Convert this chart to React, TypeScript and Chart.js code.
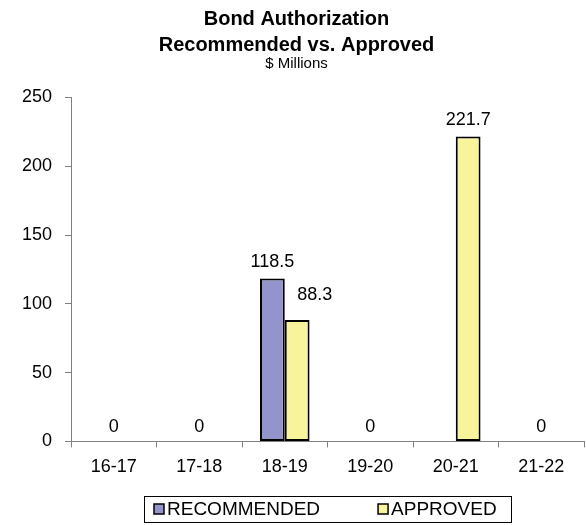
import React, { useEffect, useRef } from "react";
import { Chart, registerables } from "chart.js";

Chart.register(...registerables);

const categories = ["16-17", "17-18", "18-19", "19-20", "20-21", "21-22"];
const recommended: (number | null)[] = [0, 0, 118.5, 0, null, 0];
const approved: (number | null)[] = [0, 0, 88.3, 0, 221.7, 0];
const seriesNames = ["RECOMMENDED", "APPROVED"];
const titleLines = ["Bond Authorization", "Recommended vs. Approved"];
const subtitleText = "$ Millions";

const FONT = "'Liberation Sans', Arial, sans-serif";
const LABEL_SIZE = 18;
const LEGEND_SIZE = 19;

const labelPlugin = {
  id: "barValueLabels",
  afterDatasetsDraw(chart: any) {
    const ctx = chart.ctx;
    const xScale = chart.scales.x;
    const yScale = chart.scales.y;
    ctx.save();
    ctx.font = `${LABEL_SIZE}px ${FONT}`;
    ctx.fillStyle = "#000";
    ctx.textBaseline = "alphabetic";
    const n = chart.data.labels.length;
    for (let i = 0; i < n; i++) {
      const vals = chart.data.datasets.map((d: any) => d.data[i]);
      const nonNull = vals.filter((v: any) => v !== null && v !== undefined);
      const allZero = nonNull.length > 0 && nonNull.every((v: number) => v === 0);
      if (allZero) {
        ctx.textAlign = "center";
        ctx.fillText("0", xScale.getPixelForValue(i), yScale.getPixelForValue(0) - 9);
        continue;
      }
      chart.data.datasets.forEach((d: any, di: number) => {
        const v = d.data[i];
        if (v === null || v === undefined || v === 0) return;
        const el = chart.getDatasetMeta(di).data[i];
        let y = el.y - 11;
        ctx.textAlign = "center";
        if (di > 0) {
          const prev = chart.data.datasets[di - 1].data[i];
          if (prev !== null && prev !== undefined && prev > v) {
            ctx.textAlign = "left";
            y = el.y - 20;
          }
        }
        ctx.fillText(String(v), el.x, y);
      });
    }
    ctx.restore();
  },
};

const boxLegendPlugin = {
  id: "boxLegend",
  afterDraw(chart: any) {
    const ctx = chart.ctx;
    const area = chart.chartArea;
    ctx.save();
    ctx.font = `${LEGEND_SIZE}px ${FONT}`;
    const sq = 10;
    const gapSq = 3;
    const gapItem = 58;
    const padX = 10;
    const items = chart.data.datasets.map((d: any) => ({
      text: d.label,
      color: d.backgroundColor,
      w: ctx.measureText(d.label).width,
    }));
    let total = padX * 2 + 4;
    items.forEach((it: any, i: number) => {
      total += sq + gapSq + it.w + (i > 0 ? gapItem : 0);
    });
    const cx = (area.left + area.right) / 2;
    const left = Math.round(cx - total / 2);
    const top = 496;
    const h = 26;
    const cy = top + h / 2;
    ctx.strokeStyle = "#000";
    ctx.lineWidth = 1;
    ctx.strokeRect(left + 0.5, top + 0.5, Math.round(total), h);
    let x = left + padX;
    ctx.textBaseline = "middle";
    ctx.textAlign = "left";
    items.forEach((it: any, i: number) => {
      if (i > 0) x += gapItem;
      ctx.fillStyle = it.color;
      ctx.fillRect(x, cy - sq / 2, sq, sq);
      ctx.strokeStyle = "#000";
      ctx.lineWidth = 1.5;
      ctx.strokeRect(x, cy - sq / 2, sq, sq);
      x += sq + gapSq;
      ctx.fillStyle = "#000";
      ctx.fillText(it.text, x, cy + 1);
      x += it.w;
    });
    ctx.restore();
  },
};

export default function App() {
  const ref = useRef<HTMLCanvasElement>(null);
  useEffect(() => {
    if (!ref.current) return;
    const chart = new Chart(ref.current, {
      type: "bar",
      data: {
        labels: categories,
        datasets: [
          {
            label: seriesNames[0],
            data: recommended,
            backgroundColor: "#9494CC",
            borderColor: "#000",
            borderWidth: 2,
            borderSkipped: false,
          },
          {
            label: seriesNames[1],
            data: approved,
            backgroundColor: "#F8F49C",
            borderColor: "#000",
            borderWidth: 2,
            borderSkipped: false,
          },
        ],
      },
      options: {
        animation: false,
        responsive: false,
        devicePixelRatio: 1,
        categoryPercentage: 0.58,
        barPercentage: 1.0,
        layout: { padding: { left: 9, right: 2, top: 6, bottom: 38 } },
        plugins: {
          title: {
            display: true,
            text: titleLines,
            color: "#000",
            font: { family: FONT, size: 20, weight: "bold", lineHeight: 1.3 },
            padding: { top: 0, bottom: 0 },
          },
          subtitle: {
            display: true,
            text: subtitleText,
            color: "#000",
            font: { family: FONT, size: 15, lineHeight: 1.1 },
            padding: { top: -2, bottom: 25 },
          },
          legend: { display: false },
          tooltip: { enabled: false },
        },
        scales: {
          x: {
            offset: true,
            grid: {
              display: true,
              offset: true,
              drawOnChartArea: false,
              drawTicks: true,
              tickLength: 6,
              tickColor: "#808080",
            },
            border: { display: true, color: "#808080", width: 1 },
            ticks: {
              color: "#000",
              font: { family: FONT, size: LABEL_SIZE, lineHeight: 1.2 },
              padding: 9,
            },
          },
          y: {
            min: 0,
            max: 250,
            grid: {
              display: true,
              drawOnChartArea: false,
              drawTicks: true,
              tickLength: 6,
              tickColor: "#808080",
            },
            border: { display: true, color: "#808080", width: 1 },
            ticks: {
              stepSize: 50,
              color: "#000",
              font: { family: FONT, size: LABEL_SIZE },
              padding: 13,
            },
          },
        },
      },
      plugins: [labelPlugin, boxLegendPlugin],
    });
    return () => chart.destroy();
  }, []);
  return (
    <div style={{ position: "fixed", left: 0, top: 0, width: 586, height: 525, background: "#fff" }}>
      <canvas ref={ref} width={586} height={525} style={{ display: "block" }} />
    </div>
  );
}
